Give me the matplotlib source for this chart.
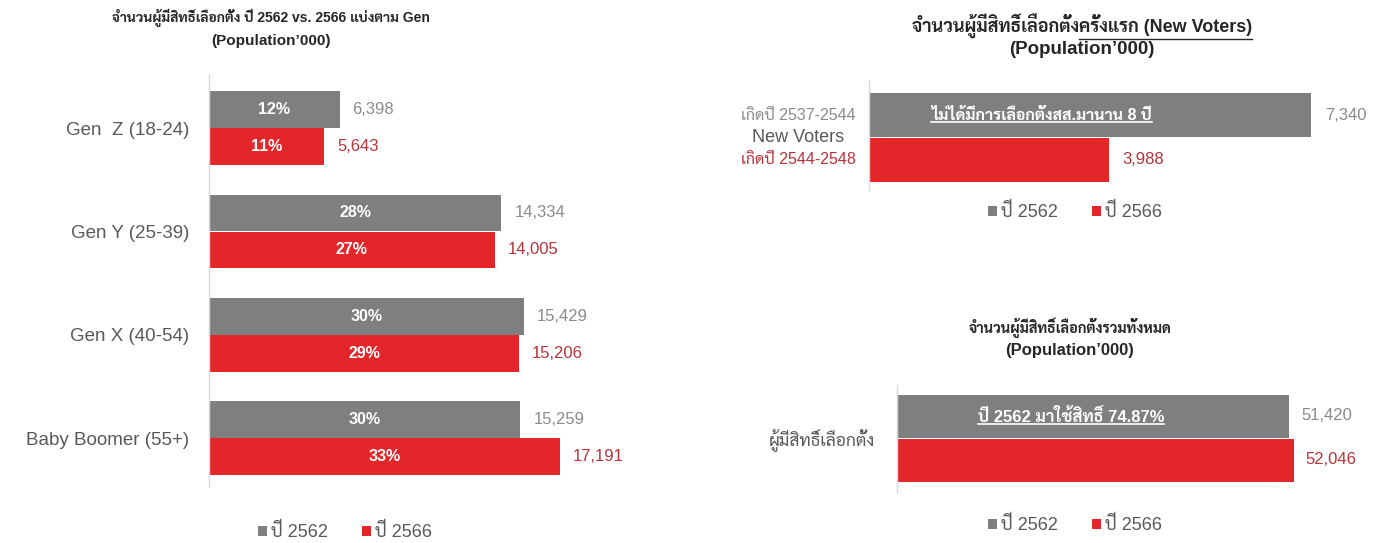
import matplotlib
matplotlib.use("Agg")
import matplotlib.pyplot as plt
from matplotlib.lines import Line2D
import numpy as np

plt.rcParams['font.family'] = ['Liberation Sans', 'Sarabun', 'Noto Sans Thai Looped', 'DejaVu Sans']

# ---------------- data ----------------
gens = ["Gen  Z (18-24)", "Gen Y (25-39)", "Gen X (40-54)", "Baby Boomer (55+)"]
gen_2562 = [6398, 14334, 15429, 15259]
gen_2566 = [5643, 14005, 15206, 17191]
pct_2562 = [12, 28, 30, 30]
pct_2566 = [11, 27, 29, 33]

new_voters_2562 = [7340]
new_voters_2566 = [3988]
new_voter_labels = ["เกิดปี 2537-2544", "New Voters", "เกิดปี 2544-2548"]
new_voter_note = "ไม่ได้มีการเลือกตั้งสส.มานาน 8 ปี"

total_cat = ["ผู้มีสิทธิ์เลือกตั้ง"]
total_2562 = [51420]
total_2566 = [52046]
total_note = "ปี 2562 มาใช้สิทธิ์ 74.87%"

series_names = ["ปี 2562", "ปี 2566"]

title_left = ["จำนวนผู้มีสิทธิ์เลือกตั้ง ปี 2562 vs. 2566 แบ่งตาม Gen", "(Population\u2019000)"]
title_rt_plain = "จำนวนผู้มีสิทธิ์เลือกตั้ง"
title_rt_under = "ครั้งแรก (New Voters)"
title_rb = ["จำนวนผู้มีสิทธิ์เลือกตั้งรวมทั้งหมด", "(Population\u2019000)"]

# ---------------- style ----------------
GREY = "#7f7f7f"
RED = "#e3262a"
GREY_TXT = "#8a8a8a"
RED_TXT = "#b8323a"
DARK_TXT = "#595959"
TITLE_TXT = "#262626"
AXIS = "#d9d9d9"

W, H = 1385, 543
fig = plt.figure(figsize=(W / 100, H / 100), dpi=100)
fig.patch.set_facecolor("white")


def fx(px):
    return px / W


def fy(py):
    return 1 - py / H


def make_ax(x0, x1, y0, y1):
    ax = fig.add_axes([fx(x0), fy(y1), fx(x1) - fx(x0), (y1 - y0) / H])
    ax.set_facecolor("none")
    for s in ["top", "right", "bottom"]:
        ax.spines[s].set_visible(False)
    ax.spines["left"].set_color(AXIS)
    ax.spines["left"].set_linewidth(1.0)
    ax.set_xticks([])
    ax.tick_params(axis="y", length=0)
    return ax


def underline(txt, prefix_txt=None, pad=2, color="white", lw=1.2):
    fig.canvas.draw()
    r = fig.canvas.get_renderer()
    bb = txt.get_window_extent(renderer=r)
    x0 = bb.x0
    if prefix_txt is not None:
        pb = prefix_txt.get_window_extent(renderer=r)
        x0 = bb.x0 + pb.width
    yline = bb.y0 + pad
    fig.add_artist(Line2D([x0 / W, bb.x1 / W], [yline / H, yline / H],
                          transform=fig.transFigure, color=color, lw=lw))


def add_legend(ax, handles, cx, cy):
    leg = ax.legend(handles, series_names, loc="center", bbox_to_anchor=(fx(cx), fy(cy)),
                    bbox_transform=fig.transFigure, ncol=2, frameon=False,
                    handlelength=0.5, handleheight=0.5, handletextpad=0.2,
                    columnspacing=1.9, fontsize=13)
    for t in leg.get_texts():
        t.set_color(DARK_TXT)
    return leg


# ---------------- left chart ----------------
axL = make_ax(209, 209 + 612, 75, 487)
y = np.arange(len(gens))
off, hgt = 0.179, 0.355
b1 = axL.barh(y - off, gen_2562, height=hgt, color=GREY)
b2 = axL.barh(y + off, gen_2566, height=hgt, color=RED)
axL.set_xlim(0, 30000)
axL.set_ylim(3.474, -0.513)
axL.set_yticks(y, labels=gens)
axL.tick_params(axis="y", pad=14, labelsize=13.5, labelcolor=DARK_TXT)
for i in range(len(gens)):
    axL.text(gen_2562[i] / 2, y[i] - off, f"{pct_2562[i]}%", ha="center", va="center",
             color="white", fontweight="bold", fontsize=11.5)
    axL.text(gen_2566[i] / 2, y[i] + off, f"{pct_2566[i]}%", ha="center", va="center",
             color="white", fontweight="bold", fontsize=11.5)
    axL.annotate(f"{gen_2562[i]:,}", xy=(gen_2562[i], y[i] - off), xytext=(13, 0),
                 textcoords="offset pixels", va="center", ha="left", color=GREY_TXT, fontsize=12)
    axL.annotate(f"{gen_2566[i]:,}", xy=(gen_2566[i], y[i] + off), xytext=(13, 0),
                 textcoords="offset pixels", va="center", ha="left", color=RED_TXT, fontsize=12)
add_legend(axL, [b1, b2], 345, 532)
fig.text(fx(271), fy(18), title_left[0], ha="center", va="center", fontsize=10,
         fontweight="bold", color=TITLE_TXT)
fig.text(fx(271), fy(41), title_left[1], ha="center", va="center", fontsize=11,
         fontweight="bold", color=TITLE_TXT)

# ---------------- right top chart ----------------
axR1 = make_ax(869, 869 + 512, 80, 190)
off2, h2 = 0.225, 0.44
c1 = axR1.barh([-off2], new_voters_2562, height=h2, color=GREY)
c2 = axR1.barh([off2], new_voters_2566, height=h2, color=RED)
axR1.set_xlim(0, 8500)
axR1.set_ylim(0.525, -0.575)
axR1.set_yticks([])
axR1.annotate(f"{new_voters_2562[0]:,}", xy=(new_voters_2562[0], -off2), xytext=(14, 0),
              textcoords="offset pixels", va="center", ha="left", color=GREY_TXT, fontsize=12)
axR1.annotate(f"{new_voters_2566[0]:,}", xy=(new_voters_2566[0], off2), xytext=(13, 0),
              textcoords="offset pixels", va="center", ha="left", color=RED_TXT, fontsize=12)
note1 = axR1.text(2860, -off2, new_voter_note, ha="center", va="center", color="white",
                  fontweight="bold", fontsize=11.5)
lab_cols = [GREY_TXT, DARK_TXT, RED_TXT]
lab_ys = [115, 137, 160]
lab_sz = [11.5, 13, 11.5]
for t, c, yy, sz in zip(new_voter_labels, lab_cols, lab_ys, lab_sz):
    fig.text(fx(798), fy(yy), t, ha="center", va="center", color=c, fontsize=sz)
add_legend(axR1, [c1, c2], 1075, 212)
t_full = fig.text(fx(1082), fy(26), title_rt_plain + title_rt_under, ha="center", va="center",
                  fontsize=13, fontweight="bold", color=TITLE_TXT)
t_pre = fig.text(0, 0, title_rt_plain, fontsize=13, fontweight="bold", alpha=0)
fig.text(fx(1082), fy(49), "(Population\u2019000)", ha="center", va="center", fontsize=13.5,
         fontweight="bold", color=TITLE_TXT)

# ---------------- right bottom chart ----------------
axR2 = make_ax(897, 897 + 480, 385, 492)
off3, h3 = 0.22, 0.43
d1 = axR2.barh([-off3], total_2562, height=h3, color=GREY)
d2 = axR2.barh([off3], total_2566, height=h3, color=RED)
axR2.set_xlim(0, 63000)
axR2.set_ylim(0.54, -0.53)
axR2.set_yticks([0], labels=total_cat)
axR2.tick_params(axis="y", pad=16, labelsize=12.5, labelcolor=DARK_TXT)
axR2.annotate(f"{total_2562[0]:,}", xy=(total_2562[0], -off3), xytext=(13, 0),
              textcoords="offset pixels", va="center", ha="left", color=GREY_TXT, fontsize=12)
axR2.annotate(f"{total_2566[0]:,}", xy=(total_2566[0], off3), xytext=(12, 0),
              textcoords="offset pixels", va="center", ha="left", color=RED_TXT, fontsize=12)
note2 = axR2.text(22835, -off3, total_note, ha="center", va="center", color="white",
                  fontweight="bold", fontsize=12)
add_legend(axR2, [d1, d2], 1075, 525)
fig.text(fx(1070), fy(328), title_rb[0], ha="center", va="center", fontsize=10.5,
         fontweight="bold", color=TITLE_TXT)
fig.text(fx(1070), fy(351), title_rb[1], ha="center", va="center", fontsize=12,
         fontweight="bold", color=TITLE_TXT)

# underlines
underline(note1, pad=1)
underline(note2, pad=1)
underline(t_full, prefix_txt=t_pre, pad=0, color=TITLE_TXT, lw=1.0)

fig.savefig("out.png", dpi=100, facecolor="white")
